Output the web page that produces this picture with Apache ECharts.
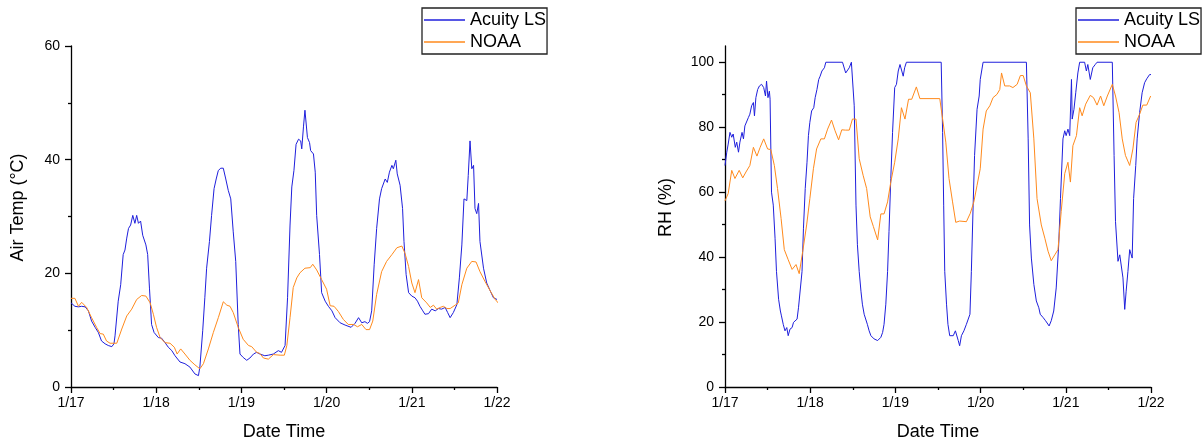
<!DOCTYPE html>
<html>
<head>
<meta charset="utf-8">
<script src="https://cdn.jsdelivr.net/npm/echarts@6/dist/echarts.min.js"></script>
<style>
  html, body { margin: 0; padding: 0; background: #fff; }
  #chart { width: 1204px; height: 446px; }
</style>
</head>
<body>
<div id="chart"></div>
<script>
// all series: [hours since 1/17 00:00, value]
const acuityTemp = [[0,14.8],[1.1,14.2],[2.1,14.1],[3,14.2],[4,14.1],[4.9,13.4],[5.8,11.6],[6.8,10.5],[7.7,9.6],[8.6,8.1],[9.6,7.6],[10.5,7.3],[11.5,7.1],[12.1,7.6],[12.4,9.0],[13.3,15.1],[14,18],[14.7,23.3],[15.2,24.1],[15.7,26.2],[16.2,27.9],[16.8,28.5],[17.4,30.2],[18,28.8],[18.5,30.2],[19,28.8],[19.6,29.2],[20.2,26.7],[21.1,25],[21.6,23.3],[22.1,17.4],[22.7,11],[23.4,9.6],[24.6,8.7],[25.5,8.6],[26.5,7.8],[27.4,7],[28.4,6.4],[29.3,5.5],[30.7,4.4],[32.1,4.1],[33.5,3.5],[34.9,2.3],[35.9,2.0],[36.3,3.5],[37.1,9.9],[37.7,15.7],[38.2,20.9],[39,25.6],[39.6,30.2],[40.3,34.9],[40.9,36.6],[41.5,38.1],[42.2,38.5],[42.9,38.5],[43.6,36.6],[44.3,34.6],[45,33.1],[45.7,27.3],[46.4,22.1],[47.1,11],[47.6,5.8],[48.5,5.2],[49.5,4.7],[50.4,5.1],[51.4,5.8],[52.3,6.1],[53.2,5.8],[54.6,5.5],[55.6,5.6],[57,5.8],[58.4,6.4],[59.3,6.1],[60.3,7.3],[61,15.7],[61.7,28.5],[62.2,35.2],[62.8,38.1],[63.4,42.7],[64.1,43.6],[64.7,43.3],[65,41.9],[65.5,45.9],[65.9,48.7],[66.6,43.9],[67.2,43],[67.5,41.6],[68.3,41],[68.8,37.8],[69.2,30.2],[70,23.3],[70.6,16.6],[71.6,15.1],[72.5,14.2],[73.5,13.4],[74.4,12.2],[75.8,11.3],[77.2,10.9],[78.9,10.5],[80,11.2],[81,12.2],[81.9,11.3],[82.8,11.5],[83.5,11.2],[84.1,11.5],[84.7,13.4],[85.4,21.5],[86.1,27.9],[86.9,33.1],[87.5,34.9],[88.5,36.6],[89.1,36],[89.7,37.8],[90.4,39],[90.8,38.4],[91.5,39.9],[91.9,37.5],[92.7,35.5],[93.4,31.4],[93.8,25.6],[94.4,19.8],[95.1,16.6],[96,16],[96.9,15.7],[97.6,15.1],[98.3,14.2],[99.1,13.4],[99.7,12.8],[100.7,12.9],[101.6,13.7],[102.6,13.4],[103.5,13.8],[104.4,13.7],[105.4,14],[106.1,13.1],[106.8,12.2],[107.7,13.1],[108.7,14.5],[109.4,19.2],[110.1,25],[110.7,33.1],[111.5,32.8],[111.9,37.2],[112.4,43.3],[112.9,38.4],[113.4,39],[113.8,31.4],[114.3,30.5],[114.8,32.3],[115.2,25.6],[116.2,20.9],[117.1,18.3],[118.1,16.9],[119,15.7],[120,15.4]];

const noaaTemp = [[0,15.6],[1.1,15.6],[2.1,14.2],[3,14.9],[4.4,14],[5.8,12.2],[7.2,10.5],[8.2,9.4],[9.1,9.3],[10,8.1],[11,7.7],[12.9,7.7],[14.3,10.2],[15.7,12.5],[17.1,13.7],[18.5,15.4],[19.9,16.1],[21.1,16],[22.3,14.8],[23.2,12.8],[24.1,10.5],[25.1,8.7],[26.5,7.8],[27.9,7.7],[29.1,7],[29.9,5.8],[30.9,6.7],[32.1,5.8],[33.5,4.7],[34.9,3.9],[36.3,3.2],[37.3,4.1],[38.7,6.7],[40.1,9.6],[41.5,12.2],[42.9,15],[43.9,14.4],[44.8,14.2],[45.7,13.1],[47.1,10.5],[48.5,8.4],[50,7.3],[50.9,7.1],[52.3,6.1],[53.2,5.9],[54.2,5.1],[55.6,4.9],[57,5.7],[58.9,5.6],[60.1,5.6],[60.8,7.3],[61.7,12.2],[62.6,17.5],[63.6,19.2],[64.5,20.1],[65.9,20.9],[67.4,21],[68.1,21.6],[69.2,20.6],[70.6,18.9],[72,17.2],[73,14.3],[74.1,14.2],[75.3,13.3],[76.7,11.9],[78.1,11],[79.6,11],[80.7,10.6],[81.9,11],[83.1,10.1],[84.1,10.1],[85,11.6],[86.1,16.3],[87.5,20.3],[88.9,22.1],[90.4,23.3],[91.8,24.5],[93.2,24.8],[94.1,23.5],[95.1,21.2],[96,18.3],[96.9,16.6],[97.9,18.9],[98.8,15.7],[100.2,14.8],[101.2,14],[102.1,14.4],[103,13.7],[104,14],[104.9,14.2],[105.9,13.8],[106.8,13.8],[108.2,14.4],[109.1,14.8],[110.1,18],[111.5,20.9],[112.9,22.1],[114.1,22],[115.2,20.3],[116.6,18.6],[118.1,16.9],[119.5,15.4],[120.9,14.4]];

const acuityRH = [[0,68.2],[0.5,72.3],[0.9,74.8],[1.4,78.4],[1.9,76.9],[2.3,77.9],[2.9,73.8],[3.3,75.4],[3.8,72.3],[4.2,75.4],[4.8,78.4],[5.2,76.4],[5.6,80.4],[6.1,81],[6.6,83],[7,84],[7.5,86.6],[8,87.6],[8.3,83.5],[8.7,89.1],[9.2,91.6],[9.7,92.7],[10.3,93.2],[10.9,92.2],[11.4,89.6],[11.7,94.2],[12.1,89.1],[12.5,91.1],[12.7,88.6],[13.1,60],[13.6,56],[14.1,45.8],[14.5,35.6],[15.1,27],[15.6,23.4],[15.9,21.9],[16.4,19.3],[16.9,17.3],[17.4,18.3],[17.8,15.8],[18.3,17.8],[18.9,18.3],[19.3,19.9],[19.8,19.3],[20.3,20.9],[20.7,24.4],[21.2,23.9],[21.7,35.6],[22.1,48.9],[22.6,61.1],[23.1,69.2],[23.5,77.4],[23.9,81.5],[24.4,85],[25,86],[25.4,89.1],[25.9,91.6],[26.4,94.7],[26.8,95.7],[27.3,97.3],[28,98.3],[28.4,100],[33.1,100],[34,96.7],[34.5,96.2],[35,98.3],[35.6,100],[36.1,99.8],[36.4,86.6],[36.9,56],[37.3,43.8],[37.8,35.6],[38.3,29.5],[38.7,25.5],[39.2,22.4],[39.7,21.9],[40.1,19.3],[40.6,17.3],[41.1,15.8],[42,14.8],[43,14.3],[43.4,13.7],[43.9,15.3],[44.4,16.8],[44.8,19.3],[45.3,25.5],[45.8,35.6],[46.2,47.9],[46.7,64.2],[47.2,78.4],[47.8,92.2],[48.3,93.2],[48.8,97.3],[49.3,99.3],[49.7,99.8],[50.2,95.7],[50.6,98.3],[51.1,100],[60.9,100],[61.3,78.4],[61.6,56],[61.9,35.6],[62.4,25.5],[62.8,19.3],[63.3,15.8],[64.3,15.8],[64.9,17.3],[65.7,14.3],[66.1,12.7],[66.6,15.8],[67.3,17.3],[68,19.3],[69,22.4],[69.4,35.6],[69.9,56],[70.3,71.3],[71,85.5],[71.6,89.6],[71.9,94.7],[72.7,100],[84.9,100],[85.4,76.4],[85.8,49.9],[86.3,39.7],[87,31.6],[87.7,26.5],[88.4,24.4],[88.8,22.4],[89.6,21.4],[90.3,20.4],[91.3,18.8],[91.9,20.4],[92.6,23.4],[93.3,30.5],[94,43.8],[94.5,58],[95.2,76.4],[95.7,78.9],[96.1,77.4],[96.6,79.4],[97.1,77.4],[97.6,94.7],[97.8,82.5],[98.3,85.5],[98.8,90.6],[99.4,96.7],[99.9,100],[101.3,100],[101.8,97.3],[102.2,99.3],[102.9,94.7],[103.6,98.3],[104.3,99.3],[104.8,100],[109.1,100],[109.6,71.3],[110,50.9],[110.7,38.7],[111.2,40.7],[111.6,40.2],[112.1,33.6],[112.6,23.9],[113,29.5],[113.5,35.6],[114,42.3],[114.4,42.8],[114.7,39.7],[115.1,58],[115.7,68.2],[116.1,76.4],[116.8,84.5],[117.5,90.6],[118.2,93.7],[118.8,94.9],[119.6,96.2],[120,96.2]];

const noaaRH = [[0,57.3],[0.9,59.6],[1.9,66.7],[2.8,64.2],[4,66.7],[5,64.4],[5.9,66.2],[7,68.2],[8,73.8],[9,71.1],[9.9,73.8],[10.9,76.4],[12,73.3],[12.9,73.1],[13.9,68.2],[14.8,61.1],[15.8,51.9],[16.7,42.3],[17.8,39.2],[18.9,36.2],[20,37.7],[20.9,34.9],[21.9,41.8],[23,49.9],[23.9,58],[24.9,67.2],[25.8,73.3],[27,76.4],[28,76.4],[28.9,79.4],[30,82.2],[31,78.9],[32,76.1],[32.9,79.2],[33.9,79.1],[35,79.1],[35.9,82.5],[36.9,82.5],[37.8,70.3],[38.9,65.2],[39.9,61.1],[40.9,52.4],[41.8,49.4],[43,45.3],[43.9,53.3],[44.8,53.3],[45.8,57],[46.7,63.1],[47.8,69.2],[48.8,76.4],[49.7,86],[50.7,82.5],[51.7,88.6],[52.6,88.6],[53.9,92.4],[54.9,88.8],[60.5,88.8],[61.3,82.5],[62.2,75.4],[63.1,64.2],[64.1,57],[65,50.7],[66.1,51.1],[68,50.9],[69.1,53.5],[70.1,57],[71,62.1],[71.9,67.2],[72.7,79.4],[73.6,85],[74.6,86.6],[75.5,89.1],[76.6,90.1],[77.4,91.6],[77.9,96.7],[78.8,92.7],[80.2,92.7],[81.1,92.2],[82.3,93.2],[83.2,95.9],[84,95.9],[84.9,92.7],[86,90.6],[87,76.4],[87.9,58],[89.1,49.9],[90.1,45.8],[91,41.8],[91.9,38.9],[92.9,40.7],[93.8,42.3],[94.7,54],[95.7,65.7],[96.6,69.2],[97.3,63.1],[98,74.3],[99,77.4],[99.9,86],[100.6,83.5],[101.6,87.1],[102.9,89.8],[103.8,89.1],[104.8,86.8],[105.8,89.6],[106.7,86.6],[107.7,89.6],[109.1,93.2],[110,89.6],[111,84.5],[111.9,76.4],[112.8,71.3],[114,68.2],[114.9,73.3],[115.8,81.5],[116.8,84],[117.7,86.8],[118.8,86.8],[119.9,89.6]];

const dayLabels = ['1/17', '1/18', '1/19', '1/20', '1/21', '1/22'];
const rhTicks = [0, 20, 40, 60, 80, 100];
const rhMinorTicks = [10, 30, 50, 70, 90];

const FONT = '"Liberation Sans", Arial, sans-serif';
const BLUE = '#1f1fdc';
const ORANGE = '#ff8a1c';
const INK = '#000';

const lineStyle = { color: INK, width: 1.3 };

function dateAxis(gridIndex) {
  return {
    type: 'value',
    gridIndex: gridIndex,
    min: 0,
    max: 120,
    interval: 24,
    name: 'Date Time',
    nameLocation: 'middle',
    nameGap: 36,
    nameTextStyle: { fontFamily: FONT, fontSize: 18, color: INK },
    axisLine: { show: true, onZero: false, lineStyle: lineStyle },
    axisTick: { show: true, length: 6, lineStyle: lineStyle },
    minorTick: { show: true, splitNumber: 2, length: 3, lineStyle: lineStyle },
    axisLabel: {
      margin: 9, fontFamily: FONT, fontSize: 14, color: INK,
      formatter: function (v) { return dayLabels[Math.round(v / 24)]; }
    },
    splitLine: { show: false }
  };
}

function legendAt(left) {
  return {
    left: left, top: 8, orient: 'vertical', selectedMode: false,
    data: ['Acuity LS', 'NOAA'],
    icon: 'rect',
    itemWidth: 41, itemHeight: 1.3, itemGap: 4, padding: [3, 1, 3, 2],
    borderColor: '#222', borderWidth: 1.3,
    textStyle: { fontFamily: FONT, fontSize: 18, lineHeight: 18, color: INK }
  };
}

const chart = echarts.init(document.getElementById('chart'), null, { renderer: 'canvas' });

const option = {
  animation: false,
  backgroundColor: '#ffffff',
  grid: [
    { left: 71, top: 46, width: 426, height: 344 },
    { left: 725, top: 46, width: 426, height: 344 }
  ],
  legend: [legendAt(422), legendAt(1076)],
  xAxis: [dateAxis(0), dateAxis(1)],
  yAxis: [
    {
      type: 'value', gridIndex: 0, position: 'left',
      min: 0, max: 60, interval: 20,
      name: 'Air Temp (°C)', nameLocation: 'middle', nameGap: 44,
      nameTextStyle: { fontFamily: FONT, fontSize: 18, color: INK, padding: [0, 0, 0, 18] },
      axisLine: { show: true, onZero: false, lineStyle: lineStyle },
      axisTick: { show: true, length: 6, lineStyle: lineStyle },
      minorTick: { show: true, splitNumber: 2, length: 3, lineStyle: lineStyle },
      axisLabel: { margin: 11, fontFamily: FONT, fontSize: 14, color: INK },
      splitLine: { show: false }
    },
    {
      type: 'value', gridIndex: 1, position: 'left',
      min: 0, max: 105, interval: 20,
      name: 'RH (%)', nameLocation: 'middle', nameGap: 50,
      nameTextStyle: { fontFamily: FONT, fontSize: 18, color: INK, padding: [0, 0, 0, 18] },
      axisLine: { show: true, onZero: false, lineStyle: lineStyle },
      axisTick: { show: true, length: 6, customValues: rhTicks, lineStyle: lineStyle },
      axisLabel: { margin: 11, fontFamily: FONT, fontSize: 14, color: INK, customValues: rhTicks },
      splitLine: { show: false }
    },
    {
      // minor ticks only for the RH axis
      type: 'value', gridIndex: 1, position: 'left',
      min: 0, max: 105, interval: 20,
      axisLine: { show: false, onZero: false },
      axisTick: { show: true, length: 3, customValues: rhMinorTicks, lineStyle: lineStyle },
      axisLabel: { show: false },
      splitLine: { show: false }
    }
  ],
  series: [
    {
      name: 'Acuity LS', type: 'line', xAxisIndex: 0, yAxisIndex: 0,
      data: acuityTemp, symbol: 'none', color: BLUE,
      lineStyle: { color: BLUE, width: 1 }
    },
    {
      name: 'NOAA', type: 'line', xAxisIndex: 0, yAxisIndex: 0,
      data: noaaTemp, symbol: 'none', color: ORANGE,
      lineStyle: { color: ORANGE, width: 1 }
    },
    {
      name: 'Acuity LS', type: 'line', xAxisIndex: 1, yAxisIndex: 1,
      data: acuityRH, symbol: 'none', color: BLUE,
      lineStyle: { color: BLUE, width: 1 }
    },
    {
      name: 'NOAA', type: 'line', xAxisIndex: 1, yAxisIndex: 1,
      data: noaaRH, symbol: 'none', color: ORANGE,
      lineStyle: { color: ORANGE, width: 1 }
    }
  ]
};

chart.setOption(option);
</script>
</body>
</html>
